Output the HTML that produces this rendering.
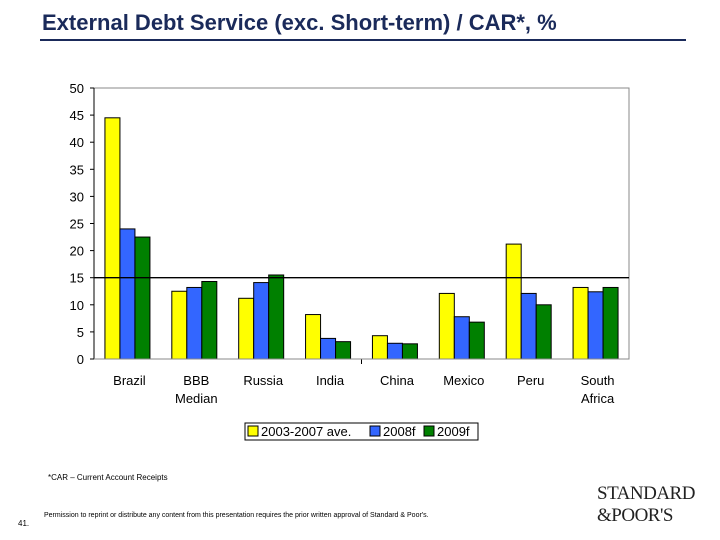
<!DOCTYPE html>
<html><head><meta charset="utf-8"><style>
body{margin:0;width:720px;height:540px;background:#fff;font-family:"Liberation Sans",sans-serif;position:relative;overflow:hidden}
.t{position:absolute;white-space:nowrap}
</style></head><body>
<div class="t" style="left:42px;top:10px;font-size:22px;font-weight:bold;color:#1a2a5a">External Debt Service (exc. Short-term) / CAR*, %</div>
<div style="position:absolute;left:40px;top:39px;width:646px;height:2px;background:#1a2a5a"></div>
<svg id="c" width="720" height="540" style="position:absolute;left:0;top:0"></svg>
<div class="t" style="left:48px;top:473px;font-size:8px">*CAR – Current Account Receipts</div>
<div class="t" style="left:18px;top:519px;font-size:8px">41.</div>
<div class="t" style="left:44px;top:512px;font-size:7px">Permission to reprint or distribute any content from this presentation requires the prior written approval of Standard &amp; Poor's.</div>
<div class="t" style="left:597px;top:483px;font-family:'Liberation Serif',serif;font-size:19px;line-height:22px;color:#222;letter-spacing:-0.5px">STANDARD<br>&amp;POOR'S</div>
<script>
const categories=["Brazil","BBB\nMedian","Russia","India","China","Mexico","Peru","South\nAfrica"];
const s2003=[44.5,12.5,11.2,8.2,4.3,12.1,21.2,13.2];
const s2008=[24,13.2,14.1,3.8,2.9,7.8,12.1,12.4];
const s2009=[22.5,14.3,15.5,3.2,2.8,6.8,10,13.2];
const yTicks=[0,5,10,15,20,25,30,35,40,45,50];
const seriesNames=["2003-2007 ave.","2008f","2009f"];
const colors=["#ffff00","#3366ff","#008000"];
const NS="http://www.w3.org/2000/svg",svg=document.getElementById('c');
const L=94,R=629,T=88,B=359;
const y=v=>B-(v/50)*(B-T);
const gw=(R-L)/categories.length;
const x=i=>L+gw*i+gw/2;
function mk(tag,a,p){const e=document.createElementNS(NS,tag);for(const k in a)e.setAttribute(k,a[k]);(p||svg).appendChild(e);return e;}
let f=mk('rect',{x:L,y:T,width:R-L,height:B-T,fill:'#fff',stroke:'#888','stroke-width':1});

let ax=mk('line',{x1:L,y1:T,x2:L,y2:B,stroke:'#000'});

yTicks.forEach(v=>{
 mk('line',{x1:L-4,y1:y(v),x2:L,y2:y(v),stroke:'#000'});
 const t=mk('text',{x:L-10,y:y(v)+5,'text-anchor':'end','font-size':13,fill:'#000'});t.textContent=v;
 
});
const all=[s2003,s2008,s2009];
categories.forEach((c,i)=>{
 all.forEach((s,k)=>{
  const r=mk('rect',{x:x(i)-22.5+15*k,y:y(s[i]),width:15,height:B-y(s[i]),fill:colors[k],stroke:'#000','stroke-width':1});
  
  
 });
 c.split('\n').forEach((ln,j)=>{
  const t=mk('text',{x:x(i)+2,y:B+26+j*18,'text-anchor':'middle','font-size':13});t.textContent=ln;
  
 });
 if(i==3)mk('line',{x1:L+gw*4,y1:B,x2:L+gw*4,y2:B+5,stroke:'#000'});
});
mk('line',{x1:L,y1:B,x2:R,y2:B,stroke:'#888'});
let ref=mk('line',{x1:L,y1:y(15),x2:R,y2:y(15),stroke:'#000','stroke-width':1.3});

const lg=mk('g',{});
mk('rect',{x:245,y:423,width:233,height:17,fill:'#fff',stroke:'#000'},lg);
const lx=[248,370,424];
seriesNames.forEach((n,k)=>{
 mk('rect',{x:lx[k],y:426,width:10,height:10,fill:colors[k],stroke:'#000'},lg);
 const t=mk('text',{x:lx[k]+13,y:436,'font-size':13},lg);t.textContent=n;
 
});
</script>
</body></html>
